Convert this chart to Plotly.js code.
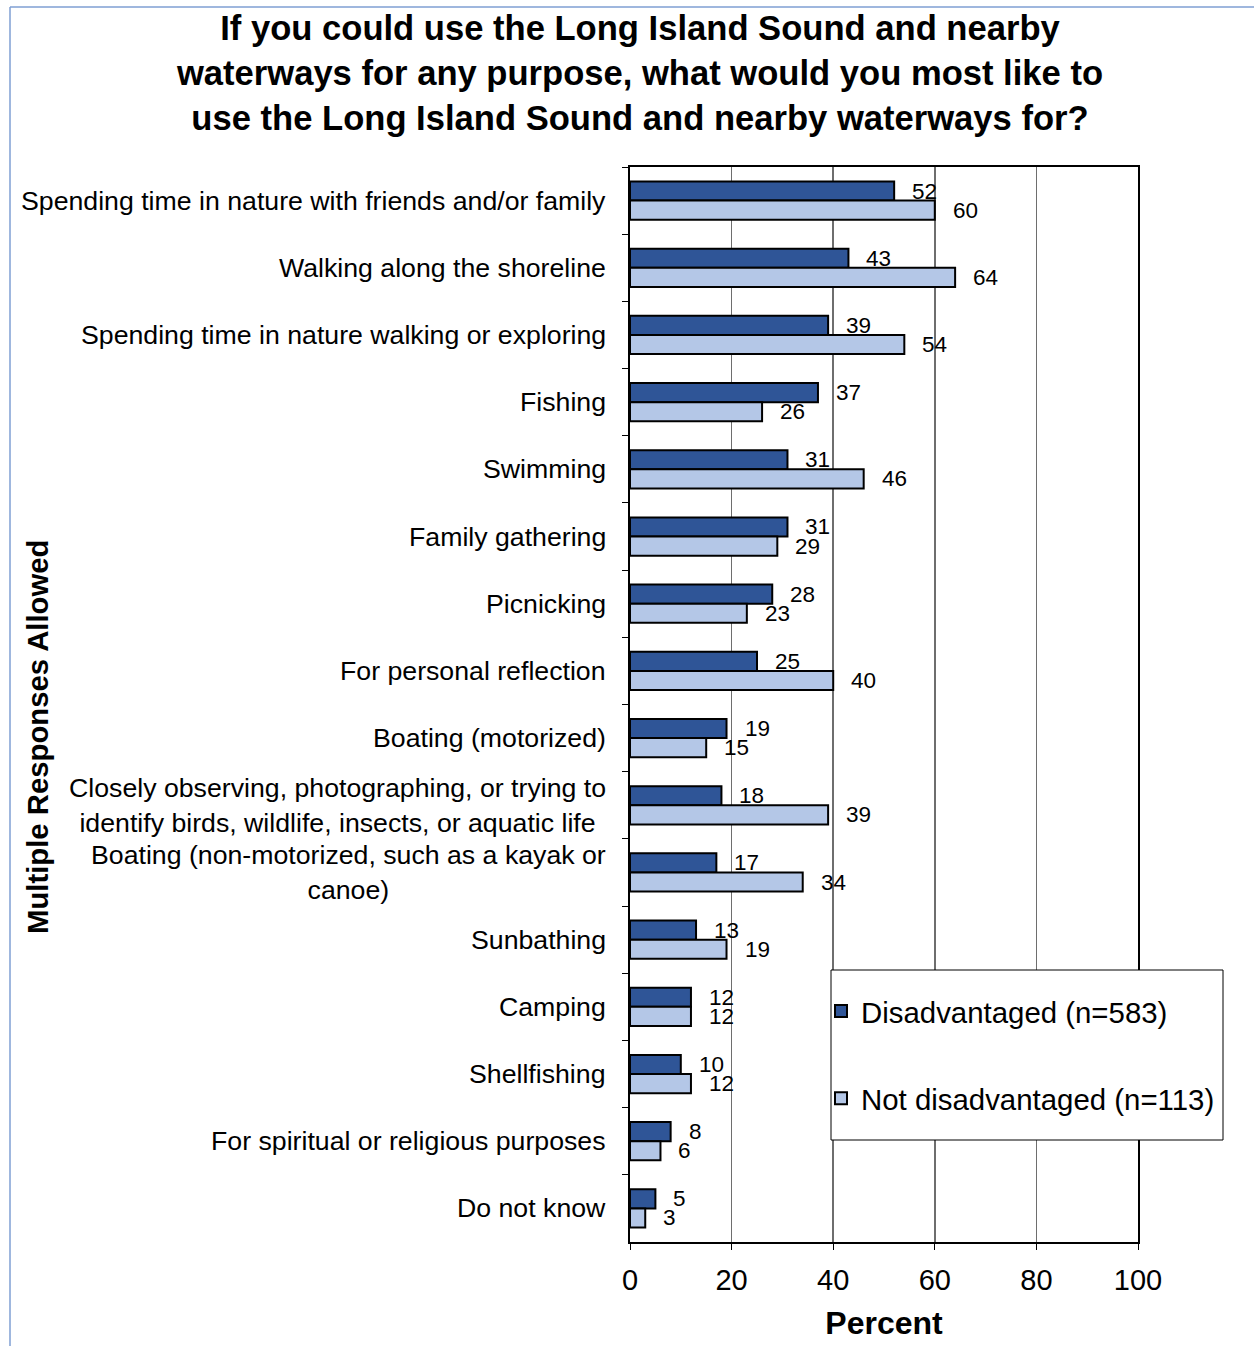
<!DOCTYPE html>
<html><head><meta charset="utf-8">
<script src="https://cdn.plot.ly/plotly-3.0.1.min.js"></script>
<style>html,body{margin:0;padding:0;background:#fff}#chart{width:1254px;height:1346px}</style>
</head><body><div id="chart"></div>
<script>
const categories = [
  "Spending time in nature with friends and/or family",
  "Walking along the shoreline",
  "Spending time in nature walking or exploring",
  "Fishing",
  "Swimming",
  "Family gathering",
  "Picnicking",
  "For personal reflection",
  "Boating (motorized)",
  "Closely observing, photographing, or trying to<br>identify birds, wildlife, insects, or aquatic life",
  "Boating (non-motorized, such as a kayak or<br>canoe)",
  "Sunbathing",
  "Camping",
  "Shellfishing",
  "For spiritual or religious purposes",
  "Do not know"
];
const disadvantaged    = [52, 43, 39, 37, 31, 31, 28, 25, 19, 18, 17, 13, 12, 10, 8, 5];
const notDisadvantaged = [60, 64, 54, 26, 46, 29, 23, 40, 15, 39, 34, 19, 12, 12, 6, 3];
const seriesNames = ["Disadvantaged (n=583)", "Not disadvantaged (n=113)"];
const xTickVals = [0, 20, 40, 60, 80, 100];

const W = 1254, H = 1346;
const L = 630, R = 1138, T = 167, B = 1242;
const pw = R - L, ph = B - T;
const px = v => (v - L) / pw;
const py = v => (B - v) / ph;
const FONT = '"Liberation Sans", Arial, Helvetica, sans-serif';
const BARGAP = 0.43;
const halfShift = (1 - BARGAP) / 4 * (ph / categories.length);

const traces = [
  {type: 'bar', orientation: 'h', name: seriesNames[0], y: categories, x: disadvantaged,
   marker: {color: '#2F5597', line: {color: '#000000', width: 2}}, legendgroup: 'a'},
  {type: 'bar', orientation: 'h', name: seriesNames[1], y: categories, x: notDisadvantaged,
   marker: {color: '#B4C7E7', line: {color: '#000000', width: 2}}, legendgroup: 'b'}
];

const annotations = [];
categories.forEach((c, i) => {
  annotations.push({xref: 'paper', yref: 'y', x: 0, y: c, xshift: -22, xanchor: 'right', yanchor: 'middle',
    align: 'center', text: c, showarrow: false, font: {family: FONT, size: 26.7, color: '#000'}});
  annotations.push({xref: 'x', yref: 'y', x: disadvantaged[i], y: c, xshift: 16, yshift: halfShift,
    xanchor: 'left', yanchor: 'middle', text: String(disadvantaged[i]), showarrow: false,
    font: {family: FONT, size: 22.5, color: '#000'}});
  annotations.push({xref: 'x', yref: 'y', x: notDisadvantaged[i], y: c, xshift: 16, yshift: -halfShift,
    xanchor: 'left', yanchor: 'middle', text: String(notDisadvantaged[i]), showarrow: false,
    font: {family: FONT, size: 22.5, color: '#000'}});
});
annotations.push({xref: 'paper', yref: 'paper', x: px(37), y: py(737), textangle: -90,
  xanchor: 'center', yanchor: 'middle', showarrow: false,
  text: '<b>Multiple Responses Allowed</b>', font: {family: FONT, size: 29.3, color: '#000'}});

const layout = {
  width: W, height: H,
  margin: {l: L, r: W - R, t: T, b: H - B, pad: 0},
  paper_bgcolor: '#ffffff', plot_bgcolor: '#ffffff',
  font: {family: FONT, color: '#000'},
  barmode: 'group', bargap: BARGAP, bargroupgap: 0,
  title: {
    text: '<b>If you could use the Long Island Sound and nearby</b><br><b>waterways for any purpose, what would you most like to</b><br><b>use the Long Island Sound and nearby waterways for?</b>',
    font: {family: FONT, size: 34.6, color: '#000'},
    xref: 'container', x: 640 / W, xanchor: 'center',
    yref: 'container', y: 1 - 40 / H, yanchor: 'middle'
  },
  xaxis: {
    range: [0, 100], tickvals: xTickVals, ticktext: xTickVals.map(String),
    ticks: 'outside', ticklen: 6, tickwidth: 1, tickcolor: '#000', ticklabelstandoff: 5,
    tickfont: {family: FONT, size: 29, color: '#000'},
    showgrid: true, gridcolor: '#6e6e6e', gridwidth: 1.5, zeroline: false,
    showline: true, linecolor: '#000', linewidth: 2, mirror: true,
    title: {text: '<b>Percent</b>', font: {family: FONT, size: 32, color: '#000'}, standoff: 17},
    fixedrange: true
  },
  yaxis: {
    type: 'category', autorange: 'reversed', showticklabels: false,
    ticks: 'outside', ticklen: 6, tickwidth: 1, tickcolor: '#000', tickson: 'boundaries',
    showgrid: false, zeroline: false,
    showline: true, linecolor: '#000', linewidth: 2, mirror: true,
    fixedrange: true
  },
  showlegend: true,
  legend: {
    x: px(821), xanchor: 'left', y: py(1055), yanchor: 'middle',
    font: {family: FONT, size: 29.4, color: '#000'},
    bgcolor: 'rgba(0,0,0,0)', borderwidth: 0,
    traceorder: 'grouped', tracegroupgap: 46
  },
  shapes: [
    {type: 'line', xref: 'paper', yref: 'paper', x0: px(10), x1: px(10), y0: py(7), y1: py(1400),
     line: {color: '#7F9FD3', width: 1.5}},
    {type: 'line', xref: 'paper', yref: 'paper', x0: px(10), x1: px(1300), y0: py(7), y1: py(7),
     line: {color: '#7F9FD3', width: 1.5}},
    {type: 'rect', xref: 'paper', yref: 'paper', x0: px(831), x1: px(1223), y0: py(1140), y1: py(970),
     fillcolor: '#ffffff', line: {color: '#000', width: 1}, layer: 'above'}
  ],
  annotations: annotations
};

Plotly.newPlot('chart', traces, layout, {displayModeBar: false, staticPlot: true});
</script>
</body></html>
